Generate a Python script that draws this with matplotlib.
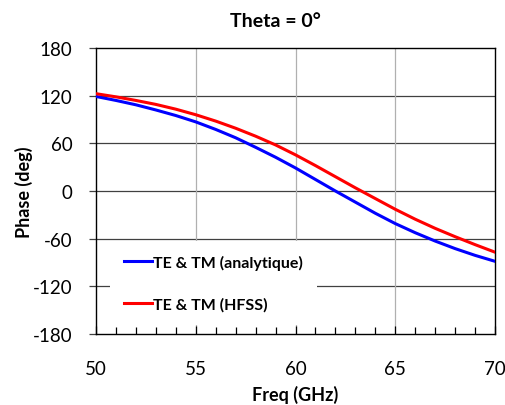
import matplotlib
matplotlib.use("Agg")  # headless
import matplotlib.pyplot as plt
from matplotlib.ticker import MultipleLocator

# values, one point per GHz
freq_ghz = [50, 51, 52, 53, 54, 55, 56, 57, 58, 59, 60,
            61, 62, 63, 64, 65, 66, 67, 68, 69, 70]
phase_analytique = [119, 114, 108.5, 102, 95, 87, 77.5, 67, 55, 42.5, 29,
                    14.5, 0, -14, -28, -41, -52.5, -63, -72.5, -81, -88.5]
phase_hfss = [122.5, 118.5, 114, 109, 103, 96, 88, 79, 69, 58, 45.5,
              32, 18, 4, -9.5, -23, -35.5, -47, -57.5, -67.5, -77]

series_labels = ["TE & TM (analytique)", "TE & TM (HFSS)"]
y_ticks = [-180, -120, -60, 0, 60, 120, 180]
x_ticks = [50, 55, 60, 65, 70]

plt.rcParams["font.family"] = ["Lato", "DejaVu Sans"]
plt.rcParams["axes.unicode_minus"] = False

W, H = 505, 406
fig = plt.figure(figsize=(W / 100, H / 100), dpi=100)
# plot area in pixels: x 96..495, y 49..335
ax = fig.add_axes([96 / W, 1 - 335 / H, 399 / W, 286 / H])

ax.plot(freq_ghz, phase_analytique, color="#0000ff", lw=2.2, label=series_labels[0], zorder=3)
ax.plot(freq_ghz, phase_hfss, color="#ff0000", lw=2.2, label=series_labels[1], zorder=3)

ax.set_xlim(50, 70)
ax.set_ylim(-180, 180)
ax.set_xticks(x_ticks)
ax.set_yticks(y_ticks)
ax.xaxis.set_minor_locator(MultipleLocator(1))

# gridlines: dark horizontals, light verticals
for y in y_ticks[1:-1]:
    ax.axhline(y, color="#404040", lw=0.9, zorder=1)
for x in x_ticks[1:-1]:
    ax.axvline(x, color="#b0b0b0", lw=0.9, zorder=1)

for s in ax.spines.values():
    s.set_color("black")
    s.set_linewidth(1.0)

ax.tick_params(axis="y", direction="out", length=5, width=0.9, color="#404040",
               labelsize=13.5, pad=12, right=False)
ax.tick_params(axis="x", which="major", direction="in", length=6, width=0.9,
               labelsize=13.5, pad=19, top=False)
ax.tick_params(axis="x", which="minor", direction="in", length=5, width=0.9, top=False)

ax.set_xlabel("Freq (GHz)", fontsize=13, fontweight="bold")
ax.set_ylabel("Phase (deg)", fontsize=13, fontweight="bold")
ax.xaxis.set_label_coords((295.5 - 96) / 399, (335 - 386) / 286)
ax.yaxis.set_label_coords((33 - 96) / 399, 0.5)

fig.text(275.5 / W, 1 - 21.5 / H, "Theta = 0°", fontsize=14, fontweight="bold",
         ha="center", va="center")

leg = ax.legend(loc="upper left", bbox_to_anchor=(14 / 399, (335 - 242) / 286),
                borderaxespad=0, borderpad=0.85, labelspacing=1.7,
                handlelength=1.8, handletextpad=0.05,
                prop={"weight": "bold", "size": 11.5},
                frameon=True, fancybox=False, framealpha=1)
leg.get_frame().set_edgecolor("none")
leg.get_frame().set_facecolor("white")
leg.set_zorder(2)

fig.savefig("out.png", dpi=100)
plt.close(fig)
